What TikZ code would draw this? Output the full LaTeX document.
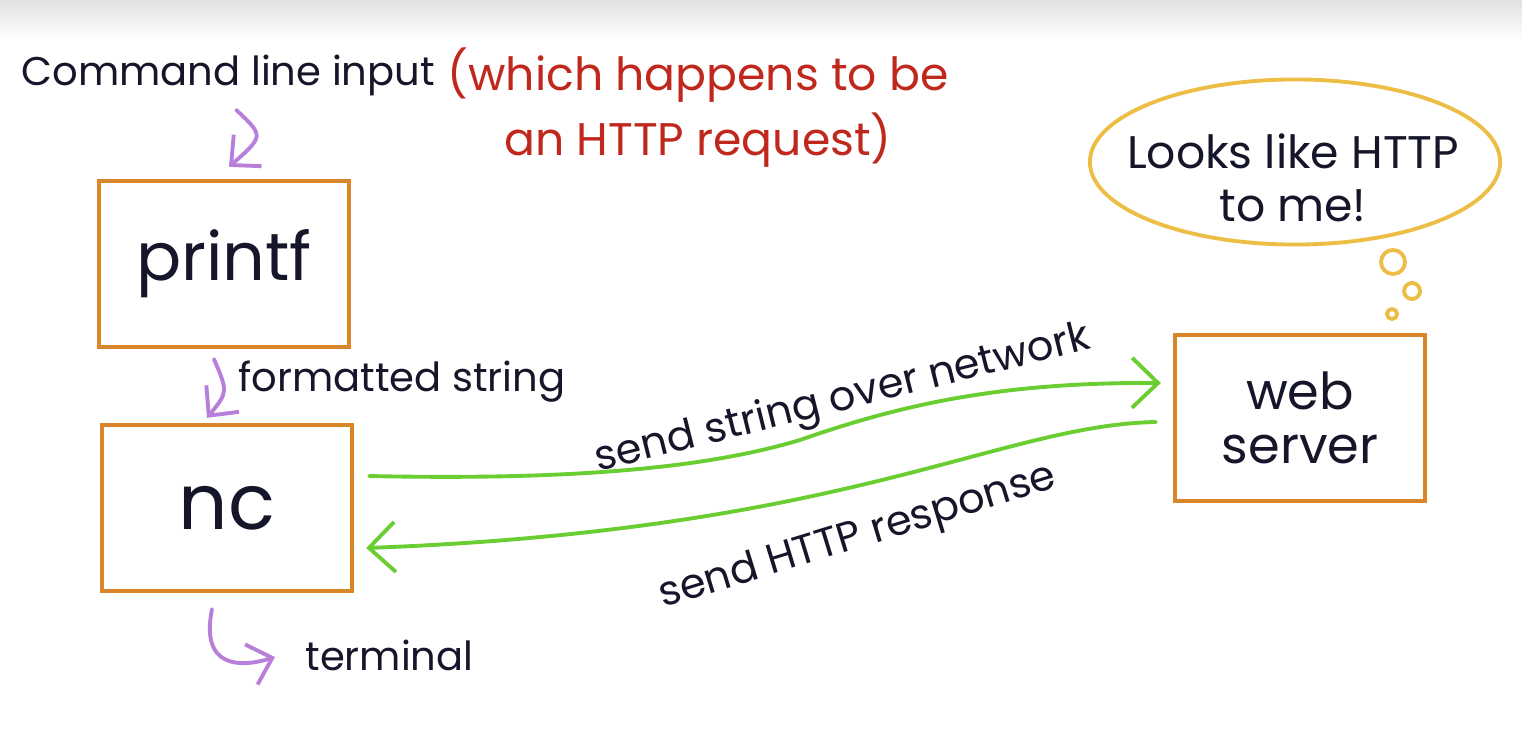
\documentclass[tikz,border=0pt]{standalone}
\usepackage{fontspec}
\setmainfont{Poppins}
\usetikzlibrary{arrows.meta,calc,positioning,shapes.geometric}
\definecolor{nwInk}{HTML}{16162A}
\definecolor{nwRed}{HTML}{C0281E}
\definecolor{nwOrange}{HTML}{D9852A}
\definecolor{nwYellow}{HTML}{EDBE45}
\definecolor{nwGreen}{HTML}{6ACD32}
\definecolor{nwPurple}{HTML}{B77FD9}
\tikzset{
  nw box/.style={
    draw=nwOrange,
    line width=1.2pt,
    minimum width=2.5cm,
    minimum height=1.66cm,
    font=\fontsize{19}{22}\selectfont,
    text=nwInk
  },
  nw flow/.style={
    draw=nwPurple,
    line width=1.1pt,
    line cap=round,
    -{Straight Barb[length=2.2mm,width=4.2mm]}
  },
  nw wire/.style={
    draw=nwGreen,
    line width=1.1pt,
    line cap=round,
    -{Straight Barb[length=2.6mm,width=5mm]}
  },
  nw thought/.style={draw=nwYellow, line width=1.1pt},
  nw label/.style={font=\fontsize{11.4}{14}\selectfont, text=nwInk},
  nw wire label/.style={font=\fontsize{11.8}{14}\selectfont, text=nwInk},
  nw note/.style={font=\fontsize{13}{18.5}\selectfont, text=nwRed, align=center}
}
\begin{document}
\begin{tikzpicture}[x=0.01cm,y=-0.01cm]
  \useasboundingbox (0,0) rectangle (1522,748);
  \shade[top color=black!12, bottom color=white] (0,0) rectangle (1522,40);

  \node[nw box] (printf) at (224,264) {printf};
  \node[nw box, font=\fontsize{22}{26}\selectfont] (nc) at (227,508) {nc};
  \node[nw box, align=center, font=\fontsize{14.5}{15.5}\selectfont] (server) at (1300,418) {web\\server};

  \node[nw label, anchor=west] (cmd) at (9,75) {Command line input};
  \node[nw note] (note) at (698,108) {(which happens to be\\an HTTP request)};
  \node[nw label, anchor=west] (fmt) at (226,382) {formatted string};
  \node[nw label, anchor=west] (term) at (293,655) {terminal};

  \node[nw thought, ellipse, inner sep=0pt, minimum width=4.1cm, minimum height=1.65cm] (bubble) at (1295,162) {};
  \node[nw label, font=\fontsize{13}{15}\selectfont, align=center] (thought) at (1293,178) {Looks like HTTP\\to me!};
  \draw[nw thought] (1393,262) circle (12);
  \draw[nw thought] (1412,291) circle (8);
  \draw[nw thought] (1392,314) circle (5);

  \draw[nw flow] ($(cmd.south)+(8,2)$) .. controls (264,136) .. ($(printf.north)+(5,-12)$);
  \draw[nw flow] ($(printf.south)+(-10,10)$) .. controls (228,392) .. ($(nc.north)+(-20,-5)$);
  \draw[nw flow] ($(nc.south)+(-15,16)$) .. controls (200,668) and (240,668) .. ($(term.west)+(-18,2)$);

  \draw[nw wire] ($(nc.east)+(15,-32)$) .. controls (560,480) and (700,470) .. (800,440)
    .. controls (900,405) and (1000,382) .. ($(server.west)+(-12,-35)$);
  \draw[nw wire] ($(server.west)+(-17,4)$) .. controls (1000,425) and (850,530) .. ($(nc.east)+(12,40)$);

  \node[nw wire label, rotate=14] (sendreq) at (843,400) {send string over network};
  \node[nw wire label, rotate=17] (sendresp) at (858,538) {send HTTP response};
\end{tikzpicture}
\end{document}
